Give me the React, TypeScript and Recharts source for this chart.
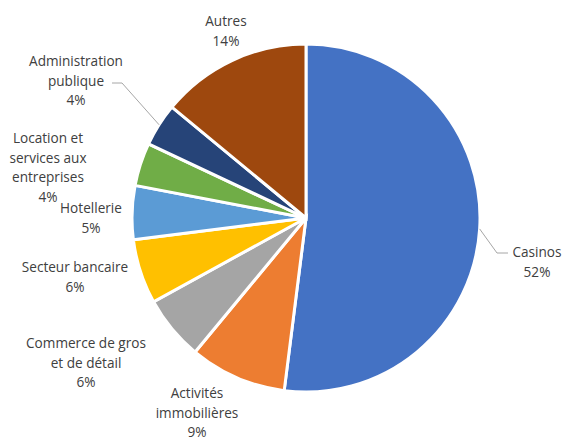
import React from "react";
import { Cell, Pie, PieChart } from "recharts";

const CATEGORIES = [
  "Casinos",
  "Activités\nimmobilières",
  "Commerce de gros\net de détail",
  "Secteur bancaire",
  "Hotellerie",
  "Location et\nservices aux\nentreprises",
  "Administration\npublique",
  "Autres",
];
const SHARES = [52, 9, 6, 6, 5, 4, 4, 14];
const COLORS = ["#4472C4", "#ED7D31", "#A5A5A5", "#FFC000", "#5B9BD5", "#70AD47", "#264478", "#9E480E"];

// label anchor (centre x, y of first line) and optional leader elbow
const LABEL_AT: [number, number][] = [
  [537, 251],
  [197, 392],
  [86, 342],
  [75, 266],
  [91, 207],
  [48, 137],
  [76, 60],
  [226, 20],
];
const LEADERS: Record<number, [number, number][]> = {
  0: [[497, 253], [508, 253]],
  6: [[122, 83], [112, 83]],
};

const data = CATEGORIES.map((name, i) => ({ name, value: SHARES[i] }));
const RAD = Math.PI / 180;
const LINE_H = 19.5;

function renderLabel(p: any) {
  const { cx, cy, midAngle, outerRadius, index, value, name } = p;
  const [lx, ly] = LABEL_AT[index];
  const lines = [...String(name).split("\n"), `${value}%`];
  const leader = LEADERS[index];
  let path = null;
  if (leader) {
    const sx = cx + outerRadius * Math.cos(-midAngle * RAD);
    const sy = cy + outerRadius * Math.sin(-midAngle * RAD);
    const pts = [[sx, sy], ...leader].map((q) => q.join(",")).join(" ");
    path = <polyline points={pts} fill="none" stroke="#A6A6A6" strokeWidth={1} />;
  }
  return (
    <g key={`lbl-${index}`}>
      {path}
      <text x={lx} y={ly} textAnchor="middle" dominantBaseline="central" fill="#404040" fontSize={13.6} fontFamily="'Open Sans', sans-serif">
        {lines.map((l, k) => (
          <tspan key={k} x={lx} y={ly + k * LINE_H}>
            {l}
          </tspan>
        ))}
      </text>
    </g>
  );
}

export default function App() {
  return (
    <div style={{ width: 562, height: 437, background: "#fff" }}>
      <style>{`body{margin:0}`}</style>
      <PieChart width={562} height={437} margin={{ top: 0, right: 0, bottom: 0, left: 0 }}>
        <Pie
          data={data}
          dataKey="value"
          nameKey="name"
          cx={306}
          cy={218}
          outerRadius={174}
          startAngle={90}
          endAngle={-270}
          stroke="#fff"
          strokeWidth={3}
          label={renderLabel}
          labelLine={false}
          isAnimationActive={false}
        >
          {data.map((d, i) => (
            <Cell key={d.name} fill={COLORS[i]} />
          ))}
        </Pie>
      </PieChart>
    </div>
  );
}
